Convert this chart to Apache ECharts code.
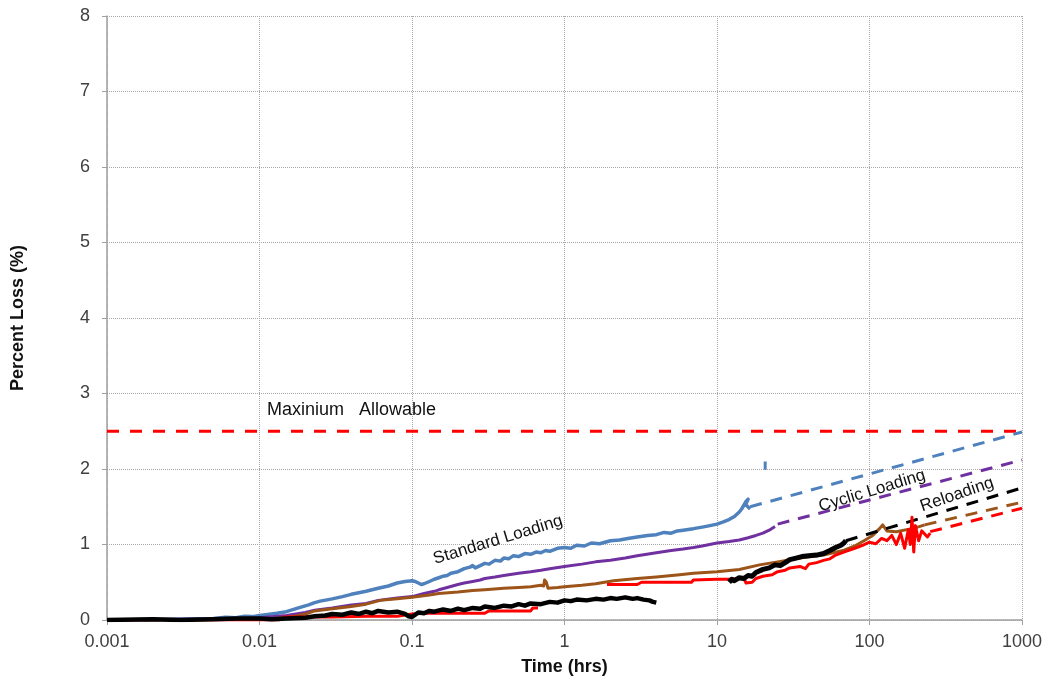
<!DOCTYPE html>
<html>
<head>
<meta charset="utf-8">
<script src="https://cdn.jsdelivr.net/npm/echarts@6/dist/echarts.min.js"></script>
<style>
html,body{margin:0;padding:0;background:#fff;}
#chart{width:1050px;height:685px;}
</style>
</head>
<body>
<div id="chart"></div>
<script>
// ---------- DATA ----------
const yTicks = [0,1,2,3,4,5,6,7,8];
const xTickLabels = ['0.001','0.01','0.1','1','10','100','1000'];

// Standard loading (blue)
const stdX = [0.001,0.002,0.003,0.004,0.005,0.006,0.007,0.008,0.009,0.01,0.011,0.013,0.015,0.018,0.021,0.023,0.025,0.03,0.035,0.04,0.05,0.06,0.07,0.08,0.09,0.1,0.105,0.11,0.115,0.12,0.13,0.14,0.15,0.16,0.17,0.18,0.2,0.21,0.22,0.24,0.25,0.26,0.28,0.3,0.32,0.35,0.38,0.4,0.43,0.46,0.5,0.55,0.6,0.65,0.7,0.75,0.8,0.9,1,1.1,1.2,1.35,1.5,1.7,2,2.3,2.6,3,3.5,4,4.5,5,5.5,6,7,8,9,10,11,12,13,14,14.5,15,15.5,16,15.4,16.5];
const stdY = [0.00,0.005,0.01,0.015,0.02,0.035,0.03,0.05,0.045,0.06,0.07,0.09,0.11,0.16,0.20,0.23,0.25,0.28,0.31,0.34,0.38,0.42,0.45,0.49,0.51,0.52,0.51,0.49,0.47,0.48,0.51,0.54,0.56,0.58,0.59,0.62,0.64,0.66,0.68,0.70,0.72,0.69,0.72,0.75,0.74,0.79,0.78,0.82,0.81,0.85,0.84,0.88,0.87,0.90,0.89,0.92,0.91,0.95,0.96,0.95,0.99,0.98,1.02,1.01,1.05,1.06,1.08,1.10,1.12,1.13,1.16,1.15,1.18,1.19,1.21,1.23,1.25,1.27,1.30,1.33,1.37,1.43,1.47,1.52,1.57,1.60,1.53,1.47];
const stdTickX = [20.7,20.7];
const stdTickY = [1.99,2.10];
const stdProjX = [16.5,1000];
const stdProjY = [1.50,2.49];

// Cyclic loading (purple)
const cycX = [0.001,0.003,0.005,0.008,0.01,0.015,0.02,0.023,0.03,0.04,0.05,0.06,0.08,0.1,0.12,0.14,0.15,0.17,0.2,0.22,0.25,0.28,0.3,0.35,0.4,0.5,0.6,0.7,0.8,1,1.3,1.6,2,2.5,3,4,5,6,7,8,10,12,14,16,18,20,22,24];
const cycY = [0.00,0.01,0.01,0.02,0.03,0.06,0.10,0.13,0.16,0.20,0.22,0.26,0.29,0.31,0.35,0.38,0.40,0.43,0.47,0.49,0.51,0.53,0.55,0.57,0.59,0.62,0.64,0.66,0.68,0.71,0.74,0.77,0.79,0.82,0.85,0.89,0.92,0.94,0.96,0.98,1.02,1.04,1.06,1.09,1.12,1.15,1.19,1.24];
const cycProjX = [25,1000];
const cycProjY = [1.27,2.12];

// Reloading (brown)
const relX = [0.001,0.005,0.01,0.0147,0.018,0.02,0.023,0.03,0.04,0.05,0.062,0.08,0.1,0.13,0.15,0.2,0.25,0.3,0.4,0.5,0.6,0.7,0.73,0.74,0.76,0.78,0.9,1,1.3,1.6,2.1,3,4,5.7,7,10,14,19,25,35,50,67,80,92,105,115,122,130,150,200,230];
const relY = [0.00,0.005,0.01,0.03,0.06,0.08,0.12,0.15,0.18,0.21,0.26,0.28,0.30,0.33,0.35,0.37,0.39,0.40,0.42,0.43,0.44,0.46,0.45,0.53,0.50,0.42,0.43,0.44,0.46,0.48,0.52,0.55,0.57,0.60,0.62,0.64,0.67,0.73,0.77,0.82,0.86,0.92,0.98,1.05,1.12,1.20,1.26,1.18,1.17,1.22,1.26];
const relProjX = [230,1000];
const relProjY = [1.26,1.56];

// Red series (two runs)
const red1X = [0.001,0.005,0.01,0.0135,0.0145,0.02,0.03,0.05,0.08,0.1,0.12,0.3,0.32,0.6,0.62,0.67];
const red1Y = [0.00,0.00,0.00,0.00,0.04,0.04,0.04,0.05,0.05,0.08,0.09,0.09,0.12,0.12,0.16,0.16];
const red2X = [1.9,2.5,3,3.2,5,6.8,7,10,12,15,15.5,17,18,20,23,25,28,30,35,38,40,45,50,55,60,70,80,90,100,110,120,130,140,150,160,170,180,185,190,195,200,210,220,240,250];
const red2Y = [0.47,0.47,0.47,0.50,0.50,0.50,0.53,0.54,0.54,0.55,0.49,0.50,0.55,0.58,0.60,0.64,0.66,0.69,0.71,0.68,0.74,0.76,0.79,0.81,0.86,0.91,0.95,0.99,1.03,1.01,1.08,1.05,1.12,1.00,1.15,0.95,1.20,1.00,1.36,0.90,1.25,1.05,1.18,1.10,1.15];
const redProjX = [250,1000];
const redProjY = [1.17,1.48];

// Black series (two runs)
const blk1X = [0.001,0.002,0.003,0.005,0.007,0.01,0.012,0.015,0.02,0.023,0.027,0.03,0.035,0.04,0.045,0.05,0.055,0.06,0.07,0.08,0.09,0.095,0.1,0.105,0.11,0.12,0.13,0.14,0.16,0.18,0.2,0.22,0.25,0.28,0.3,0.35,0.4,0.45,0.5,0.55,0.6,0.7,0.8,0.9,1,1.1,1.2,1.4,1.6,1.8,2,2.2,2.5,2.8,3,3.3,3.6,3.8,4];
const blk1Y = [0.00,0.01,0.00,0.01,0.02,0.02,0.01,0.02,0.03,0.05,0.06,0.08,0.07,0.10,0.08,0.11,0.09,0.12,0.10,0.11,0.08,0.05,0.04,0.07,0.10,0.09,0.12,0.11,0.14,0.12,0.15,0.13,0.16,0.15,0.18,0.16,0.19,0.18,0.21,0.19,0.22,0.21,0.24,0.23,0.26,0.25,0.27,0.26,0.28,0.27,0.29,0.28,0.30,0.28,0.29,0.27,0.26,0.24,0.23];
const blk2X = [12,12.5,13,14,15,16,17,18,20,22,24,26,28,30,33,36,40,45,50,55,60,65,68,70];
const blk2Y = [0.50,0.54,0.52,0.56,0.55,0.59,0.58,0.63,0.67,0.69,0.73,0.72,0.76,0.80,0.82,0.84,0.85,0.86,0.88,0.92,0.96,0.99,1.02,1.05];
const blkProjX = [70,1000];
const blkProjY = [1.05,1.75];

// Maximum allowable
const maxX = [0.001,1000];
const maxY = [2.5,2.5];

// Annotations
const labelTexts = ['Maxinium   Allowable','Standard Loading','Cyclic Loading','Reloading'];
const labelX = [0.0112,0.366,104,375];
const labelY = [2.78,1.06,1.71,1.66];
const labelRot = [0,17,17,19];
const labelSize = [18,17,17,17];

// ---------- BUILD ----------
const zip = (xs, ys) => xs.map((x, i) => [x, ys[i]]);
const BLUE = '#4F81BD', PURPLE = '#7030A0', BROWN = '#9C5418', RED = '#FF0000', BLACK = '#000000';
const DASH = [12, 9];

function solid(data, color, width, z) {
  return {type:'line', data, showSymbol:false, symbol:'none', smooth:false,
    lineStyle:{color, width, type:'solid', join:'round'}, z: z||2, silent:true, animation:false};
}
function dashed(data, color, width) {
  return {type:'line', data, showSymbol:false, symbol:'none',
    lineStyle:{color, width, type:DASH}, z:2, silent:true, animation:false};
}

const FONT = 'Arial, "Liberation Sans", sans-serif';
const labelSeries = labelTexts.map((t, i) => ({
  type:'scatter', symbolSize:0.1, itemStyle:{color:'rgba(0,0,0,0)'}, silent:true, animation:false, z:5,
  data:[[labelX[i], labelY[i]]],
  label:{show:true, position: i === 0 ? 'right' : 'inside', distance:0, formatter:t, rotate:labelRot[i],
    color:'#111', opacity:1, fontSize:labelSize[i], fontFamily:FONT}
}));

const series = [
  {type:'line', data:zip(maxX,maxY), showSymbol:false, symbol:'none', lineStyle:{color:RED, width:3, type:[12,11]}, z:2, silent:true, animation:false},
  solid(zip(stdX,stdY), BLUE, 3.5),
  solid(zip(stdTickX,stdTickY), BLUE, 3),
  dashed(zip(stdProjX,stdProjY), BLUE, 3),
  solid(zip(cycX,cycY), PURPLE, 3),
  dashed(zip(cycProjX,cycProjY), PURPLE, 3),
  solid(zip(relX,relY), BROWN, 3),
  dashed(zip(relProjX,relProjY), BROWN, 3),
  dashed(zip(redProjX,redProjY), RED, 3),
  dashed(zip(blkProjX,blkProjY), BLACK, 3),
  solid(zip(red1X,red1Y), RED, 3, 3),
  solid(zip(red2X,red2Y), RED, 3, 3),
  solid(zip(blk1X,blk1Y), BLACK, 4.5, 4),
  solid(zip(blk2X,blk2Y), BLACK, 5, 4),
  ...labelSeries
];

const chart = echarts.init(document.getElementById('chart'), null, {renderer:'canvas'});
chart.setOption({
  backgroundColor:'#ffffff',
  animation:false,
  grid:{left:107, right:28, top:16, bottom:65, containLabel:false},
  xAxis:{
    type:'log', logBase:10, min:0.001, max:1000,
    name:'Time (hrs)', nameLocation:'middle', nameGap:38,
    nameTextStyle:{fontSize:18, fontWeight:'bold', color:'#111', fontFamily:FONT},
    axisLine:{show:true, onZero:false, lineStyle:{color:'#A0A0A0', width:1.5}},
    axisTick:{show:true, length:5, lineStyle:{color:'#A0A0A0'}},
    minorTick:{show:false},
    axisLabel:{fontSize:18, color:'#404040', margin:13, fontFamily:FONT,
      formatter:(v) => { const k = Math.round(Math.log10(v)) + 3; return xTickLabels[k] !== undefined ? xTickLabels[k] : ''; }},
    splitLine:{show:true, lineStyle:{color:'#A8A8A8', type:'dotted', width:1}}
  },
  yAxis:{
    type:'value', min:yTicks[0], max:yTicks[yTicks.length-1], interval:1,
    name:'Percent Loss (%)', nameLocation:'middle', nameGap:80, nameRotate:90,
    nameTextStyle:{fontSize:18, fontWeight:'bold', color:'#111', fontFamily:FONT},
    axisLine:{show:true, lineStyle:{color:'#A0A0A0', width:1.5}},
    axisTick:{show:true, length:5, lineStyle:{color:'#A0A0A0'}},
    axisLabel:{fontSize:18, color:'#404040', margin:17, fontFamily:FONT},
    splitLine:{show:true, lineStyle:{color:'#A8A8A8', type:'dotted', width:1}}
  },
  series
});
</script>
</body>
</html>
